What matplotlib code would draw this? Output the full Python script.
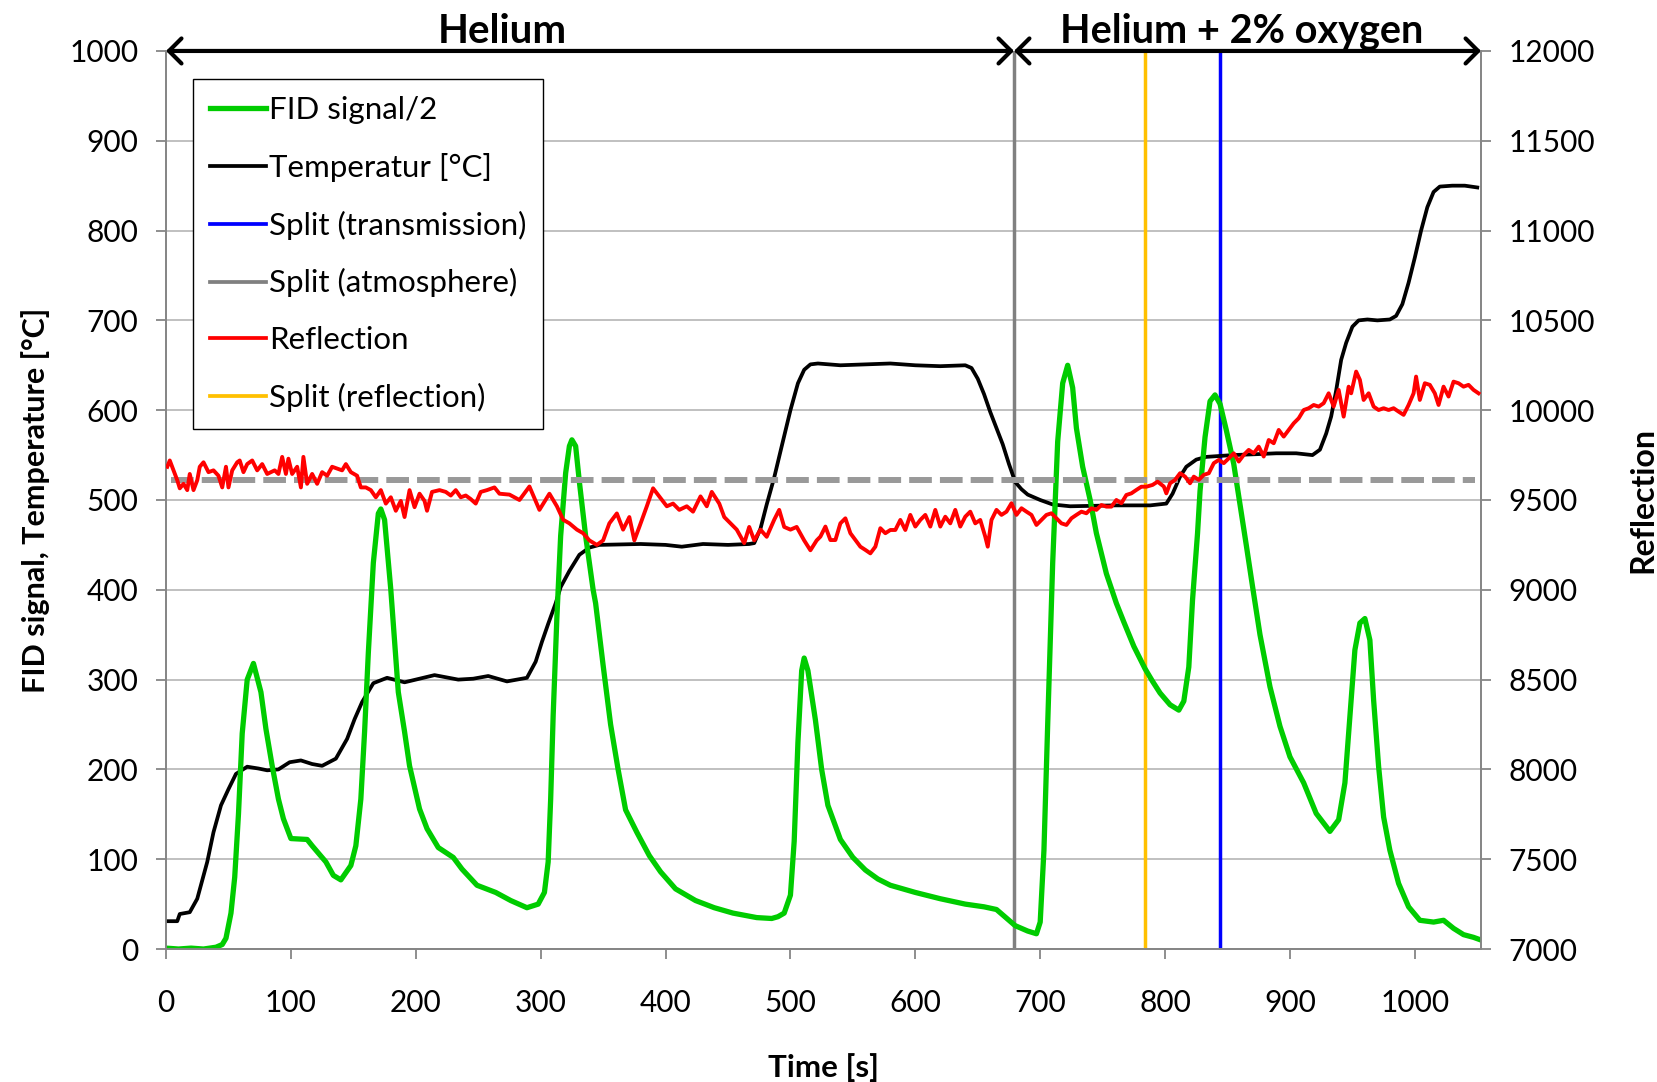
import matplotlib.pyplot as plt
from matplotlib.lines import Line2D

plt.rcParams['font.family'] = ['Lato', 'DejaVu Sans']

# FID signal / 2 (left axis)
fid_t = [0, 10, 20, 30, 40, 45, 48, 52, 55, 58, 61, 65, 70, 76, 80, 85, 90, 94, 100, 113,
         117, 128, 134, 140, 148, 152, 156, 159, 162, 166, 170, 172, 175, 180, 186, 191, 195, 203, 209, 218,
         230, 237, 249, 264, 276, 289, 298, 303, 306, 308, 310, 313, 316, 320, 323, 325, 328, 331, 336, 342,
         344, 350, 356, 362, 368, 377, 387, 396, 408, 424, 439, 454, 473, 485, 490, 495, 500, 503, 506, 509,
         511, 514, 520, 525, 530, 540, 550, 560, 570, 580, 600, 620, 640, 655, 665, 670, 680, 690, 697, 700,
         703, 706, 710, 714, 718, 722, 726, 729, 734, 740, 745, 753, 761, 767, 775, 784, 790, 796, 804, 811,
         815, 819, 822, 826, 828, 832, 836, 840, 844, 849, 855, 860, 865, 870, 876, 884, 892, 900, 911, 921,
         932, 939, 944, 948, 952, 956, 960, 964, 967, 971, 975, 980, 987, 995, 1004, 1015, 1023, 1031, 1039, 1047,
         1053]
fid = [1, 0, 1, 0, 2, 5, 12, 40, 80, 150, 240, 300, 318, 286, 245, 204, 167, 145, 123, 122,
       115, 97, 82, 77, 93, 115, 167, 242, 330, 430, 485, 490, 478, 400, 286, 242, 204, 156, 134, 113,
       102, 89, 71, 63, 54, 46, 50, 63, 97, 167, 260, 370, 460, 530, 560, 567, 560, 520, 460, 400,
       385, 316, 250, 200, 155, 130, 104, 86, 67, 54, 46, 40, 35, 34, 36, 40, 60, 120, 230, 310,
       324, 310, 255, 200, 160, 122, 102, 88, 78, 71, 63, 56, 50, 47, 44, 38, 26, 20, 17, 30,
       110, 250, 430, 565, 630, 650, 625, 580, 537, 500, 463, 418, 385, 364, 337, 312, 298, 285, 272, 266,
       276, 314, 389, 463, 510, 570, 610, 617, 607, 578, 540, 495, 450, 404, 350, 292, 248, 214, 185, 151,
       131, 144, 185, 259, 333, 363, 368, 344, 277, 203, 147, 110, 73, 47, 32, 30, 32, 23, 16, 13,
       10]

# Temperature [°C] (left axis)
temp_t = [0, 9, 11, 19, 25, 33, 38, 44, 50, 56, 65, 74, 81, 90, 99, 108, 117, 125, 136, 145,
          151, 157, 166, 177, 191, 203, 215, 234, 246, 258, 273, 289, 296, 301, 306, 312, 316, 323, 331, 339,
          347, 380, 400, 413, 430, 450, 467, 471, 476, 481, 487, 492, 500, 506, 511, 516, 522, 540, 560, 580,
          600, 620, 640, 645, 650, 655, 660, 665, 670, 675, 680, 685, 690, 700, 710, 724, 760, 788, 801, 806,
          812, 817, 825, 833, 854, 873, 889, 905, 918, 924, 929, 933, 937, 941, 945, 950, 955, 962, 970, 980,
          985, 990, 995, 1000, 1005, 1010, 1015, 1020, 1030, 1040, 1050]
temp = [31, 31, 39, 41, 56, 97, 130, 160, 178, 195, 203, 201, 199, 200, 208, 210, 206, 204, 212, 234,
        256, 275, 296, 302, 297, 301, 305, 300, 301, 304, 298, 302, 320, 342, 362, 385, 403, 421, 439, 447,
        450, 451, 450, 448, 451, 450, 451, 452, 468, 495, 525, 554, 600, 630, 645, 651, 652, 650, 651, 652,
        650, 649, 650, 647, 635, 618, 598, 580, 562, 540, 520, 512, 506, 500, 495, 493, 494, 494, 496, 507,
        526, 537, 545, 548, 550, 551, 552, 552, 550, 556, 574, 593, 622, 656, 675, 693, 700, 701, 700, 701,
        705, 718, 742, 770, 800, 826, 843, 849, 850, 850, 848]

# Reflection (right axis)
refl_t = [1, 3, 6, 9, 11, 14, 17, 19, 22, 25, 27, 30, 34, 38, 42, 45, 48, 50, 53, 57,
          59, 62, 65, 69, 73, 77, 81, 87, 90, 93, 96, 98, 101, 105, 108, 110, 113, 117, 121, 125,
          129, 133, 137, 141, 144, 148, 153, 156, 160, 164, 168, 172, 176, 180, 184, 188, 191, 195, 199, 203,
          207, 209, 213, 219, 224, 228, 232, 236, 240, 244, 248, 252, 257, 263, 267, 275, 283, 291, 299, 307,
          313, 318, 323, 329, 334, 339, 345, 350, 355, 361, 366, 371, 375, 379, 385, 390, 395, 401, 406, 411,
          417, 422, 428, 433, 437, 443, 447, 452, 457, 463, 467, 471, 476, 481, 487, 491, 495, 500, 505, 511,
          516, 521, 524, 528, 532, 536, 540, 544, 548, 552, 556, 560, 564, 568, 572, 576, 580, 584, 588, 592,
          596, 600, 604, 608, 612, 616, 620, 624, 628, 632, 636, 640, 644, 648, 652, 656, 658, 661, 665, 669,
          673, 677, 681, 685, 689, 693, 697, 701, 705, 709, 713, 717, 721, 725, 729, 733, 737, 741, 745, 749,
          753, 757, 761, 765, 769, 773, 777, 781, 785, 790, 794, 799, 801, 804, 808, 812, 816, 820, 823, 827,
          831, 835, 839, 843, 847, 851, 855, 859, 863, 867, 871, 875, 879, 883, 887, 891, 895, 899, 903, 907,
          911, 915, 919, 923, 927, 931, 935, 939, 943, 947, 949, 953, 956, 959, 963, 967, 971, 975, 979, 983,
          987, 991, 995, 999, 1001, 1004, 1008, 1012, 1016, 1019, 1023, 1027, 1031, 1035, 1039, 1043, 1047, 1051]
refl = [9685, 9720, 9665, 9610, 9565, 9590, 9555, 9645, 9555, 9610, 9685, 9710, 9655, 9665, 9635, 9570, 9685, 9570, 9665, 9710,
        9720, 9655, 9700, 9720, 9665, 9700, 9645, 9665, 9645, 9740, 9645, 9730, 9645, 9685, 9570, 9740, 9590, 9645, 9590, 9655,
        9635, 9685, 9675, 9665, 9700, 9655, 9635, 9570, 9570, 9555, 9515, 9555, 9480, 9515, 9440, 9495, 9405, 9555, 9460, 9535,
        9495, 9440, 9545, 9555, 9545, 9525, 9555, 9515, 9525, 9505, 9480, 9545, 9555, 9570, 9535, 9530, 9500, 9575, 9445, 9535,
        9465, 9390, 9370, 9335, 9315, 9275, 9250, 9275, 9370, 9425, 9335, 9405, 9275, 9350, 9465, 9565, 9520, 9465, 9480, 9445,
        9465, 9435, 9520, 9465, 9545, 9480, 9405, 9370, 9335, 9260, 9350, 9275, 9335, 9295, 9390, 9445, 9350, 9335, 9350, 9275,
        9220, 9275, 9296, 9352, 9277, 9277, 9370, 9398, 9315, 9277, 9240, 9222, 9203, 9240, 9343, 9315, 9333, 9333, 9389, 9333,
        9417, 9352, 9389, 9417, 9352, 9445, 9352, 9407, 9370, 9445, 9352, 9407, 9435, 9370, 9389, 9296, 9240, 9389, 9445, 9417,
        9435, 9482, 9417, 9454, 9435, 9417, 9361, 9389, 9417, 9426, 9398, 9370, 9361, 9398, 9417, 9435, 9426, 9454, 9445, 9472,
        9463, 9463, 9500, 9482, 9528, 9537, 9556, 9574, 9574, 9584, 9602, 9575, 9537, 9593, 9612, 9649, 9630, 9593, 9630, 9612,
        9640, 9649, 9705, 9723, 9705, 9732, 9760, 9714, 9751, 9779, 9760, 9797, 9742, 9834, 9816, 9890, 9853, 9890, 9927, 9955,
        10001, 10011, 10029, 10020, 10039, 10094, 10020, 10113, 9964, 10131, 10094, 10215, 10169, 10057, 10094, 10020, 10001, 10011, 10001, 10011,
        9992, 9974, 10029, 10094, 10187, 10057, 10150, 10141, 10094, 10029, 10131, 10076, 10159, 10150, 10131, 10141, 10113, 10094]

refl_ref = 9610        # dashed reference level
split_atm = 679
split_refl = 784
split_trans = 844
t_end = 1053

fig = plt.figure(figsize=(16.57, 10.82), dpi=100)
ax = fig.add_axes([0.1002, 0.1229, 0.7936, 0.830])
ax2 = ax.twinx()

axis_gray = '#868686'
ax.set_xlim(0, t_end)
ax.set_ylim(0, 1000)
ax2.set_ylim(7000, 12000)
ax.set_xticks(range(0, 1001, 100))
ax.set_yticks(range(0, 1001, 100))
ax2.set_yticks(range(7000, 12001, 500))
ax.grid(axis='y', color='#c0c0c0', linewidth=1.4)
ax.set_axisbelow(True)

for a in (ax, ax2):
    a.spines['top'].set_visible(False)
    for side in ('left', 'right', 'bottom'):
        a.spines[side].set_color(axis_gray)
        a.spines[side].set_linewidth(1.3)
ax.tick_params(axis='x', direction='out', length=7, width=1.3, color=axis_gray, pad=22, labelsize=21.5)
ax.tick_params(axis='y', direction='out', length=7, width=1.3, color=axis_gray, pad=13, labelsize=21.5)
ax2.tick_params(axis='y', direction='out', length=7, width=1.3, color=axis_gray, pad=13, labelsize=21.5)

ax.set_xlabel('Time [s]', fontsize=22.5, fontweight='bold', labelpad=26)
ax.set_ylabel('FID signal, Temperature [°C]', fontsize=22, fontweight='bold', labelpad=14)
ax2.set_ylabel('Reflection', fontsize=23, fontweight='bold', labelpad=24)

ax.plot(temp_t, temp, color='black', linewidth=2.7, zorder=3)
ax.plot(fid_t, fid, color='#00cc00', linewidth=3.8, zorder=4)
ax.axvline(split_atm, color='#808080', linewidth=2.5, zorder=2)
ax.axvline(split_refl, color='#ffc000', linewidth=2.5, zorder=2)
ax.axvline(split_trans, color='#0000ff', linewidth=2.5, zorder=2)

ax2.plot(refl_t, refl, color='red', linewidth=2.8, zorder=3)
ax2.hlines(refl_ref, 4, 1048, color='#999999', linewidth=4.3, linestyles=(0, (3.8, 1.35)), zorder=2)

# phase arrows on top of the plot
arrow = dict(arrowstyle='<->,head_length=0.45,head_width=0.45', lw=3, color='black',
             mutation_scale=20, shrinkA=0, shrinkB=0)
ax.annotate('', xy=(0, 1000), xytext=(split_atm, 1000), arrowprops=arrow, annotation_clip=False)
ax.annotate('', xy=(split_atm, 1000), xytext=(t_end, 1000), arrowprops=arrow, annotation_clip=False)
ax.text(269, 1022, 'Helium', ha='center', va='center', fontsize=29, fontweight='bold', clip_on=False)
ax.text(861, 1022, 'Helium + 2% oxygen', ha='center', va='center', fontsize=28.5, fontweight='bold', clip_on=False)

handles = [Line2D([], [], color='#00cc00', lw=3.8),
           Line2D([], [], color='black', lw=2.7),
           Line2D([], [], color='#0000ff', lw=2.7),
           Line2D([], [], color='#808080', lw=2.7),
           Line2D([], [], color='red', lw=2.7),
           Line2D([], [], color='#ffc000', lw=2.7)]
labels = ['FID signal/2', 'Temperatur [°C]', 'Split (transmission)', 'Split (atmosphere)',
          'Reflection', 'Split (reflection)']
leg = ax2.legend(handles, labels, loc='upper left', bbox_to_anchor=(0.0205, 0.969), borderaxespad=0,
                 fontsize=22.5, frameon=True, fancybox=False, edgecolor='black', framealpha=1,
                 handlelength=1.8, handletextpad=0.08, labelspacing=0.92, borderpad=0.55)
leg.get_frame().set_linewidth(1.0)

fig.savefig('out.png', dpi=100)
